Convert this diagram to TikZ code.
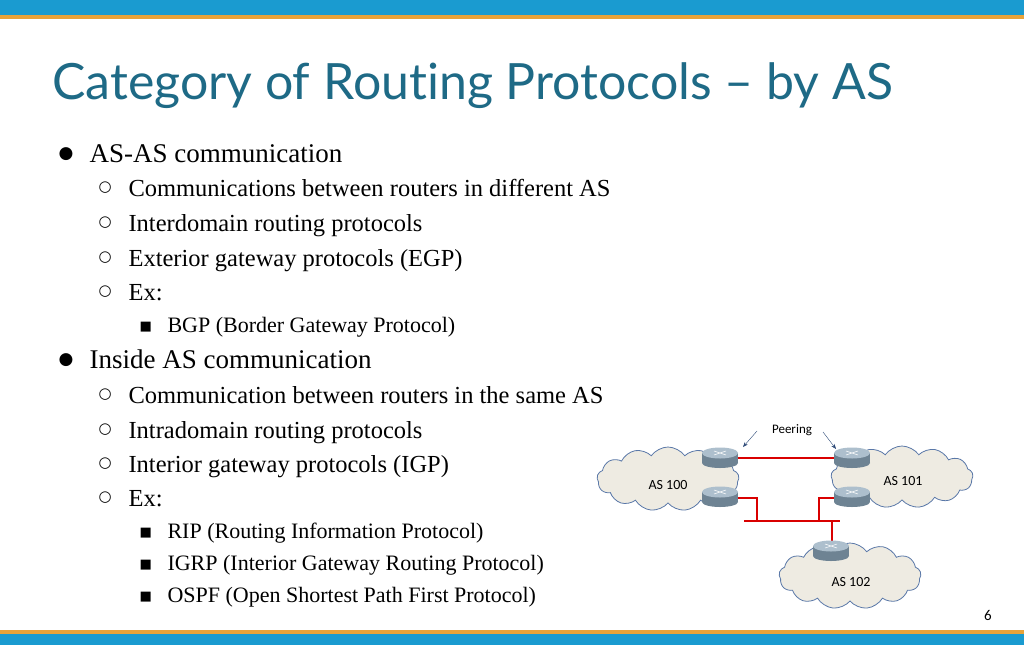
\documentclass[tikz,border=0pt]{standalone}
\usepackage{fontspec}
\setmainfont{Liberation Serif}
\newfontfamily\titlefont[Ligatures=NoCommon]{Lato}
\newfontfamily\smallsans{Carlito}
\newfontfamily\symfont{DejaVu Sans}
\usetikzlibrary{shapes.symbols,arrows.meta,calc}
\definecolor{topblue}{HTML}{1A9BD0}
\definecolor{barorange}{HTML}{E8A33A}
\definecolor{titleteal}{HTML}{1E6A86}
\definecolor{cloudfill}{HTML}{EEEBE2}
\definecolor{cloudline}{HTML}{5A78A8}
\definecolor{routerc}{HTML}{8AA4B8}
\definecolor{arrowc}{HTML}{2E4A78}
\tikzset{
  lone/.style={anchor=base west,font=\fontsize{27}{30}\selectfont},
  ltwo/.style={anchor=base west,font=\fontsize{24.5}{28}\selectfont},
  lthree/.style={anchor=base west,font=\fontsize{22}{25}\selectfont},
  bigdot/.style={anchor=base west,font=\symfont\fontsize{17}{19}\selectfont,yshift=3pt},
  ringdot/.style={anchor=base west,font=\symfont\fontsize{15}{17}\selectfont,yshift=5pt},
  sqdot/.style={anchor=base west,font=\symfont\fontsize{13}{15}\selectfont,yshift=2pt},
  cloudnode/.style={cloud,cloud puffs=13,cloud puff arc=110,aspect=2.4,draw=cloudline,fill=cloudfill,line width=0.8pt,inner sep=0pt},
  aslabel/.style={font=\smallsans\fontsize{14}{16}\selectfont},
  link/.style={red!85!black,line width=1.6pt},
}
\newcommand{\router}[2]{%
  \coordinate (#1) at #2;
  \fill[routerc!80!black] ($#2+(-18,0)$) rectangle ($#2+(18,10)$);
  \fill[routerc!80!black] ($#2+(0,10)$) ellipse (18pt and 5pt);
  \fill[routerc!70!white] #2 ellipse (18pt and 5.5pt);
  \draw[white,line width=0.5pt] ($#2+(-6,-2)$) -- ($#2+(6,2)$) ($#2+(-6,2)$) -- ($#2+(6,-2)$);
}
\begin{document}
\begin{tikzpicture}[x=1pt,y=-1pt]
\useasboundingbox (0,0) rectangle (1024,645);
\fill[white] (0,0) rectangle (1024,645);
\fill[topblue] (0,0) rectangle (1024,15);
\fill[barorange] (0,15) rectangle (1024,19);
\fill[barorange] (0,630) rectangle (1024,634);
\fill[topblue] (0,634) rectangle (1024,645);
\node[anchor=base west,inner sep=0,text=titleteal,font=\titlefont\fontsize{50}{54}\selectfont] (title) at (52,99) {Category of Routing Protocols – by AS};
% bullets
\node[bigdot] (b1) at (55,161) {●};
\node[lone] (t1) at (86,162) {AS-AS communication};
\foreach \y/\t [count=\i] in {196/Communications between routers in different AS,231/Interdomain routing protocols,266/Exterior gateway protocols (EGP),300/Ex:}{
  \node[ringdot] (c\i) at (95,\y) {○};
  \node[ltwo] (s\i) at (125,\y) {\t};
}
\node[sqdot] (q1) at (136,332) {■};
\node[lthree] (u1) at (164,332) {BGP (Border Gateway Protocol)};
\node[bigdot] (b2) at (55,367) {●};
\node[lone] (t2) at (86,368) {Inside AS communication};
\foreach \y/\t [count=\i] in {403/Communication between routers in the same AS,438/Intradomain routing protocols,472/Interior gateway protocols (IGP),506/Ex:}{
  \node[ringdot] (d\i) at (95,\y) {○};
  \node[ltwo] (v\i) at (125,\y) {\t};
}
\foreach \y/\t [count=\i] in {538/RIP (Routing Information Protocol),570/IGRP (Interior Gateway Routing Protocol),602/OSPF (Open Shortest Path First Protocol)}{
  \node[sqdot] (r\i) at (136,\y) {■};
  \node[lthree] (w\i) at (164,\y) {\t};
}
% clouds
\node[cloudnode,minimum width=142pt,minimum height=64pt] (as100) at (668,479) {};
\node[cloudnode,minimum width=142pt,minimum height=62pt] (as101) at (902,477) {};
\node[cloudnode,minimum width=142pt,minimum height=66pt] (as102) at (850,576) {};
\node[aslabel] (l100) at (668,485) {AS 100};
\node[aslabel] (l101) at (903,481) {AS 101};
\node[aslabel] (l102) at (851,582) {AS 102};
% links
\coordinate (j1) at (757,498); \coordinate (j2) at (757,521);
\coordinate (j3) at (819,498); \coordinate (j4) at (819,521);
\coordinate (busl) at (744,521); \coordinate (busr) at (840,521);
\coordinate (j5) at (832,521); \coordinate (j6) at (832,545);
\draw[link] (737,458) -- (835,458);
\draw[link] (737,498) -- (j1) -- (j2);
\draw[link] (835,498) -- (j3) -- (j4);
\draw[link] (busl) -- (busr);
\draw[link] (j5) -- (j6);
\router{ra}{(720,453)}
\router{rb}{(720,492)}
\router{rc}{(852,453)}
\router{rd}{(852,492)}
\router{re}{(831,546)}
\node[font=\smallsans\fontsize{13}{15}\selectfont] (peer) at (792,430) {Peering};
\draw[arrowc,-{Stealth[length=5pt]}] (757,431) -- (743,447);
\draw[arrowc,-{Stealth[length=5pt]}] (823,432) -- (836,449);
\node[font=\smallsans\fontsize{15}{17}\selectfont] (pg) at (988,615) {6};
\end{tikzpicture}
\end{document}
